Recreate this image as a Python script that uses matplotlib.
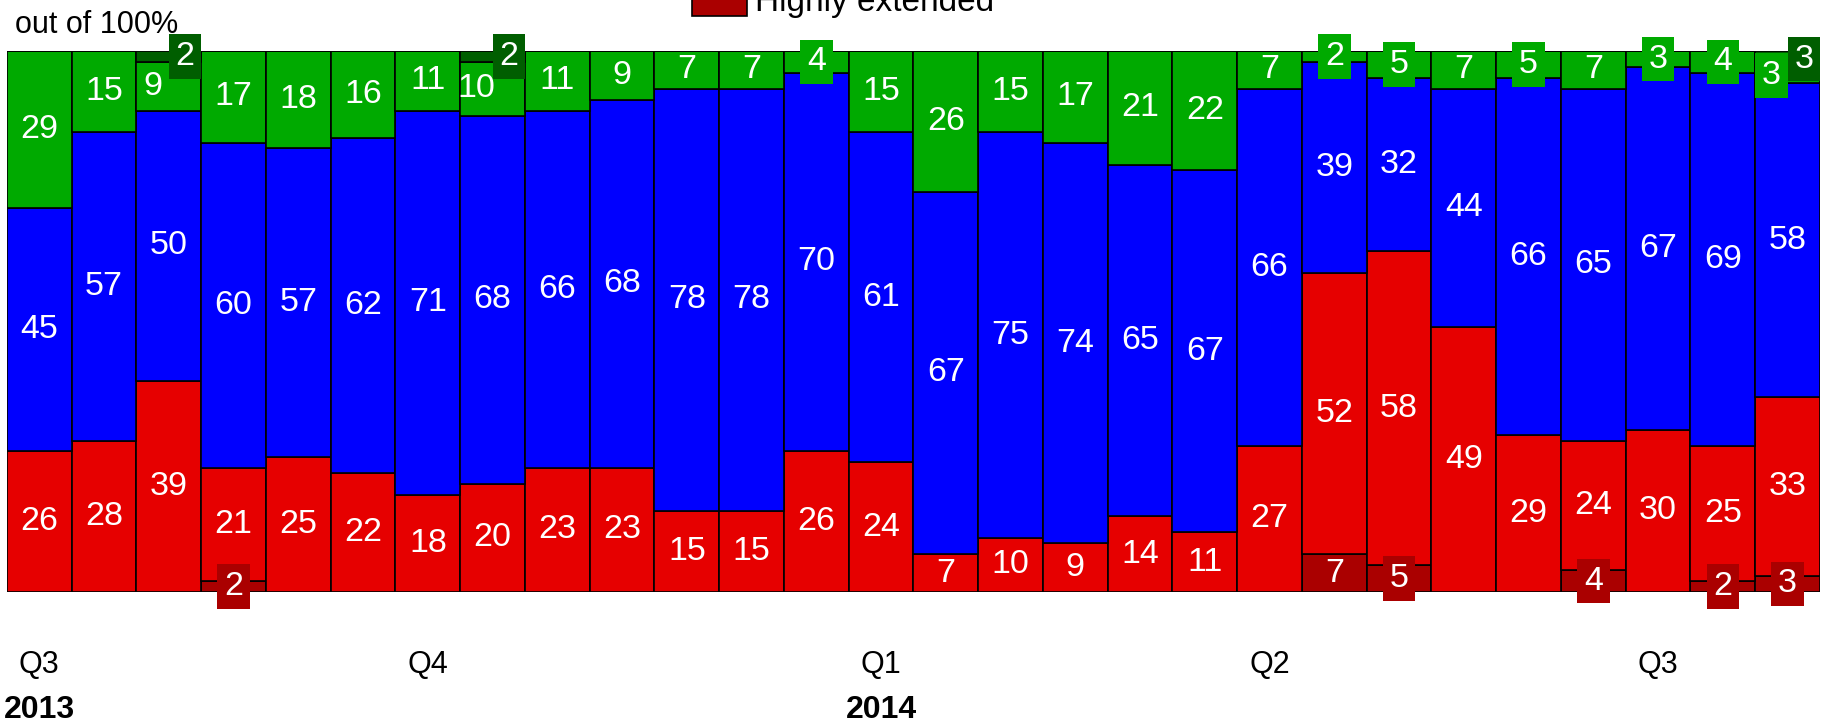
import matplotlib
matplotlib.use("Agg")
import matplotlib.pyplot as plt
import matplotlib.transforms as mtransforms
from matplotlib.patches import Rectangle

# share of answers per survey, stacked bottom -> top (percent)
highly_extended = [0, 0, 0, 2, 0, 0, 0, 0, 0, 0, 0, 0, 0, 0,
                   0, 0, 0, 0, 0, 0, 7, 5, 0, 0, 4, 0, 2, 3]
extended = [26, 28, 39, 21, 25, 22, 18, 20, 23, 23, 15, 15, 26, 24,
            7, 10, 9, 14, 11, 27, 52, 58, 49, 29, 24, 30, 25, 33]
neutral = [45, 57, 50, 60, 57, 62, 71, 68, 66, 68, 78, 78, 70, 61,
           67, 75, 74, 65, 67, 66, 39, 32, 44, 66, 65, 67, 69, 58]
stretched = [29, 15, 9, 17, 18, 16, 11, 10, 11, 9, 7, 7, 4, 15,
             26, 15, 17, 21, 22, 7, 2, 5, 7, 5, 7, 3, 4, 3]
highly_stretched = [0, 0, 2, 0, 0, 0, 0, 2, 0, 0, 0, 0, 0, 0,
                    0, 0, 0, 0, 0, 0, 0, 0, 0, 0, 0, 0, 0, 3]

quarter_pos = [0, 6, 13, 19, 25]
quarter_labels = ["Q3", "Q4", "Q1", "Q2", "Q3"]
year_pos = [0, 13]
year_labels = ["2013", "2014"]

series = [highly_extended, extended, neutral, stretched, highly_stretched]
colors = ["#aa0000", "#e60000", "#0000ff", "#00aa00", "#005e00"]

plt.rcParams["font.family"] = ["Liberation Sans Narrow", "Liberation Sans", "DejaVu Sans"]

W, H = 1831, 726
fig = plt.figure(figsize=(W / 100, H / 100), dpi=100)
ax = fig.add_axes([7 / W, (H - 592) / H, 1813 / W, 541 / H])
ax.set_xlim(-0.5, len(extended) - 0.5)
ax.set_ylim(0, 100)
ax.axis("off")

n = len(extended)
bottom = [0] * n
for vals, col in zip(series, colors):
    ax.bar(range(n), vals, width=1.0, bottom=bottom, color=col,
           edgecolor="black", linewidth=1.2, zorder=2)
    for i, v in enumerate(vals):
        if v <= 0:
            continue
        dx = 0
        both_top = stretched[i] > 0 and highly_stretched[i] > 0
        if both_top and vals is stretched:
            dx = -0.25
        elif both_top and vals is highly_stretched:
            dx = 0.25
        box = None
        if v <= 5:
            box = dict(boxstyle="square,pad=0.2", facecolor=col, edgecolor="none")
        ax.text(i + dx, bottom[i] + v / 2, str(v), ha="center", va="center",
                color="white", fontsize=24.5, bbox=box, zorder=5, clip_on=False)
    bottom = [b + v for b, v in zip(bottom, vals)]

trans = mtransforms.blended_transform_factory(ax.transData, fig.transFigure)
for x, lab in zip(quarter_pos, quarter_labels):
    ax.text(x, 1 - 665 / H, lab, transform=trans, ha="center", va="center",
            fontsize=22, color="black")
for x, lab in zip(year_pos, year_labels):
    ax.text(x, 1 - 710 / H, lab, transform=trans, ha="center", va="center",
            fontsize=23, fontweight="bold", color="black")

fig.text(15 / W, 1 - 33 / H, "out of 100%", ha="left", va="baseline",
         fontsize=22, color="black")

# legend entry, only the lowest row fits on the canvas
fig.patches.append(Rectangle((692 / W, 1 - 16 / H), 55 / W, 30 / H,
                             transform=fig.transFigure, facecolor="#aa0000",
                             edgecolor="black", linewidth=1.2))
fig.text(755 / W, 1 - 11 / H, "Highly extended", ha="left", va="baseline",
         fontsize=24, color="black")

fig.savefig("out.png", dpi=100)
